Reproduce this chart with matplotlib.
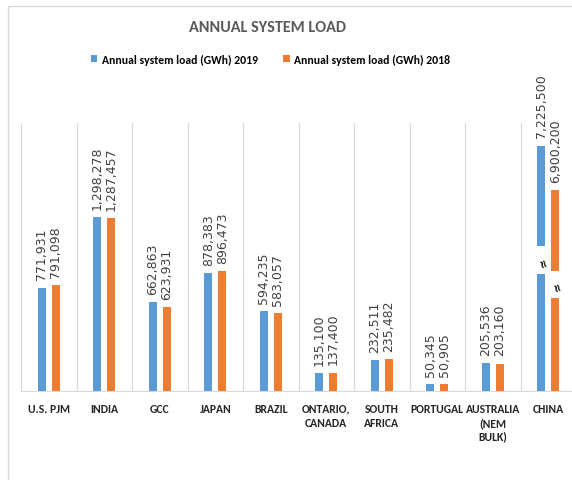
import matplotlib
matplotlib.use('Agg')
import matplotlib.pyplot as plt
from matplotlib.patches import Patch, Rectangle
from matplotlib import font_manager
import numpy as np

categories = ['U.S. PJM', 'INDIA', 'GCC', 'JAPAN', 'BRAZIL', 'ONTARIO,\nCANADA',
              'SOUTH\nAFRICA', 'PORTUGAL', 'AUSTRALIA\n(NEM\nBULK)', 'CHINA']
load_2019 = [771931, 1298278, 662863, 878383, 594235, 135100, 232511, 50345, 205536, 7225500]
load_2018 = [791098, 1287457, 623931, 896473, 583057, 137400, 235482, 50905, 203160, 6900200]
series_names = ['Annual system load (GWh) 2019', 'Annual system load (GWh) 2018']
# China bars are drawn with an axis break: displayed top and the break range per series
broken_index = 9
broken_top = [1830000, 1500000]
broken_gap = [(870000, 1080000), (695000, 895000)]

BLUE = '#5B9BD5'
ORANGE = '#ED7D31'
GRID = '#D9D9D9'

avail = {f.name for f in font_manager.fontManager.ttflist}
cal = 'Carlito' if 'Carlito' in avail else 'DejaVu Sans'

fig = plt.figure(figsize=(5.72, 4.81), dpi=100)
fig.patches.append(Rectangle((7.5 / 572, -0.1), 1.2, 1.1 - 6.5 / 481, transform=fig.transFigure,
                             fill=False, edgecolor=GRID, linewidth=1.0))
ax = fig.add_axes([21 / 572, 89 / 481, 555 / 572, 268 / 481])

x = np.arange(len(categories))
w = 0.144
off = 0.126
colors = [BLUE, ORANGE]
for s, (vals, col) in enumerate(zip([load_2019, load_2018], colors)):
    heights = list(vals)
    heights[broken_index] = broken_top[s]
    xs = x + (2 * s - 1) * off
    ax.bar(xs, heights, width=w, color=col, zorder=3)
    lo, hi = broken_gap[s]
    ax.bar(xs[broken_index], hi - lo, bottom=lo, width=w * 1.6, color='white', zorder=4)
    ax.text(xs[broken_index], (lo + hi) / 2 - 25000, '≈', ha='center', va='center', fontsize=8,
            fontweight='bold', color='black', zorder=5, rotation=-70, family='DejaVu Sans')
    for xi, h, v in zip(xs, heights, vals):
        ax.annotate(f'{v:,}', (xi, h), xytext=(0, 6), textcoords='offset points',
                    rotation=90, ha='center', va='bottom', fontsize=9, color='#404040',
                    family='DejaVu Sans')

ax.set_xlim(-0.5, 9.5)
ax.set_ylim(0, 2000000)
ax.set_yticks([])
ax.set_xticks(x)
ax.set_xticklabels(categories, fontfamily=cal, fontweight='bold', fontsize=8.4,
                   color='#262626', linespacing=1.32)
ax.tick_params(axis='x', length=0, pad=8.5)
ax.set_xticks(np.arange(-0.5, 10, 1), minor=True)
ax.tick_params(axis='x', which='minor', length=0)
ax.grid(axis='x', which='minor', color=GRID, linewidth=0.9, zorder=0)
for sp in ['top', 'right', 'left']:
    ax.spines[sp].set_visible(False)
ax.spines['bottom'].set_color(GRID)

fig.text(267.5 / 572, 1 - 27.5 / 481, 'ANNUAL SYSTEM LOAD', ha='center', va='center',
         fontsize=11.6, fontfamily=cal, fontweight='bold', color='#595959')

handles = [Patch(facecolor=c, edgecolor='none') for c in colors]
fig.legend(handles, series_names, loc='center', bbox_to_anchor=(270.5 / 572, 1 - 60 / 481),
           ncol=2, frameon=False, handlelength=0.55, handleheight=0.6, handletextpad=0.4,
           columnspacing=2.2, prop={'family': cal, 'weight': 'bold', 'size': 8.4})

fig.savefig('out.png', dpi=100)
